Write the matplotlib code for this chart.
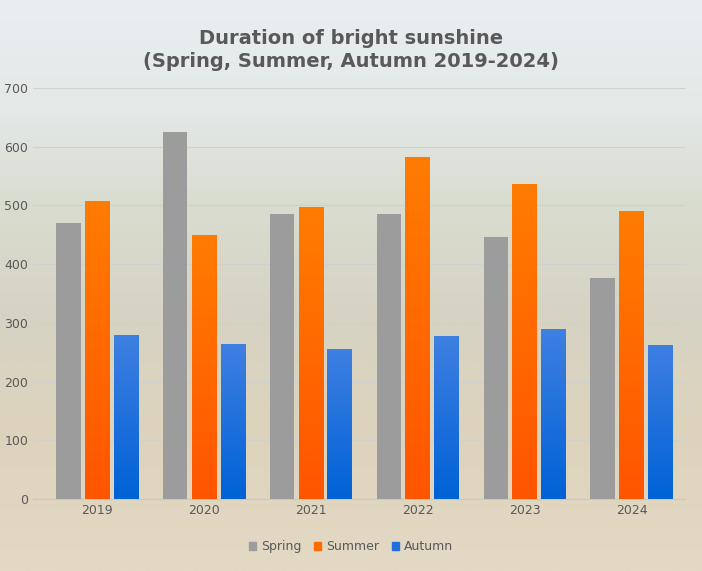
import numpy as np
import matplotlib.pyplot as plt
from matplotlib.patches import Patch
from matplotlib.colors import LinearSegmentedColormap

years = ['2019', '2020', '2021', '2022', '2023', '2024']
spring = [470, 625, 486, 486, 446, 376]
summer = [507, 450, 497, 582, 537, 491]
autumn = [279, 264, 256, 278, 289, 262]

fig = plt.figure(figsize=(7.02, 5.71), dpi=100)

# faded photo-like backdrop: sky, trees, field
bg = fig.add_axes([0, 0, 1, 1])
bg_cmap = LinearSegmentedColormap.from_list('bg', [
    (0.0, '#e9eef2'), (0.2, '#e4e8e6'), (0.35, '#d9ddd0'),
    (0.55, '#d6d3c4'), (0.75, '#ddd3bd'), (1.0, '#e3d9c4')])
bg.imshow(np.linspace(0, 1, 256).reshape(-1, 1), aspect='auto', cmap=bg_cmap,
          extent=[0, 1, 0, 1], origin='upper')
bg.set_axis_off()

ax = fig.add_axes([33 / 702, 72 / 571, 652 / 702, 411 / 571])
ax.patch.set_alpha(0)
x = np.arange(len(years))
w = 0.23
step = 0.27

orange = LinearSegmentedColormap.from_list('o', ['#ff5500', '#ff7c00'])
blue = LinearSegmentedColormap.from_list('b', ['#0062d6', '#3f7fe2'])
grad = np.linspace(0, 1, 128).reshape(-1, 1)


def grad_bars(xs, vals, cmap):
    bars = ax.bar(xs, vals, w, color='none', zorder=3)
    for b in bars:
        x0, h = b.get_x(), b.get_height()
        im = ax.imshow(grad, cmap=cmap, origin='lower', aspect='auto',
                       extent=[x0, x0 + w, 0, h], zorder=3)
        im.set_clip_path(b)


ax.bar(x - step, spring, w, color='#9c9c9c', zorder=3)
grad_bars(x, summer, orange)
grad_bars(x + step, autumn, blue)

ax.set_xlim(-0.6, 5.5)
ax.set_ylim(0, 700)
ax.set_yticks(range(0, 701, 100))
ax.set_xticks(x)
ax.set_xticklabels(years)
ax.grid(axis='y', color='#d0d0d0', linewidth=0.8, zorder=0)
for s in ax.spines.values():
    s.set_visible(False)
ax.spines['bottom'].set_visible(True)
ax.spines['bottom'].set_color('#c8c8c8')
ax.tick_params(length=0, colors='#595959', labelsize=9)

fig.text(0.5, 0.912, 'Duration of bright sunshine\n(Spring, Summer, Autumn 2019-2024)',
         ha='center', va='center', fontsize=14, fontweight='bold', color='#595959',
         linespacing=1.25)

handles = [Patch(color='#9c9c9c', label='Spring'),
           Patch(color='#ff6a00', label='Summer'),
           Patch(color='#1f6fdc', label='Autumn')]
fig.legend(handles=handles, loc='center', bbox_to_anchor=(0.5, 0.043), ncol=3,
           frameon=False, fontsize=9, labelcolor='#595959', handlelength=0.6,
           handleheight=0.6, columnspacing=1.0, handletextpad=0.4)

fig.savefig('out.png', dpi=100)
